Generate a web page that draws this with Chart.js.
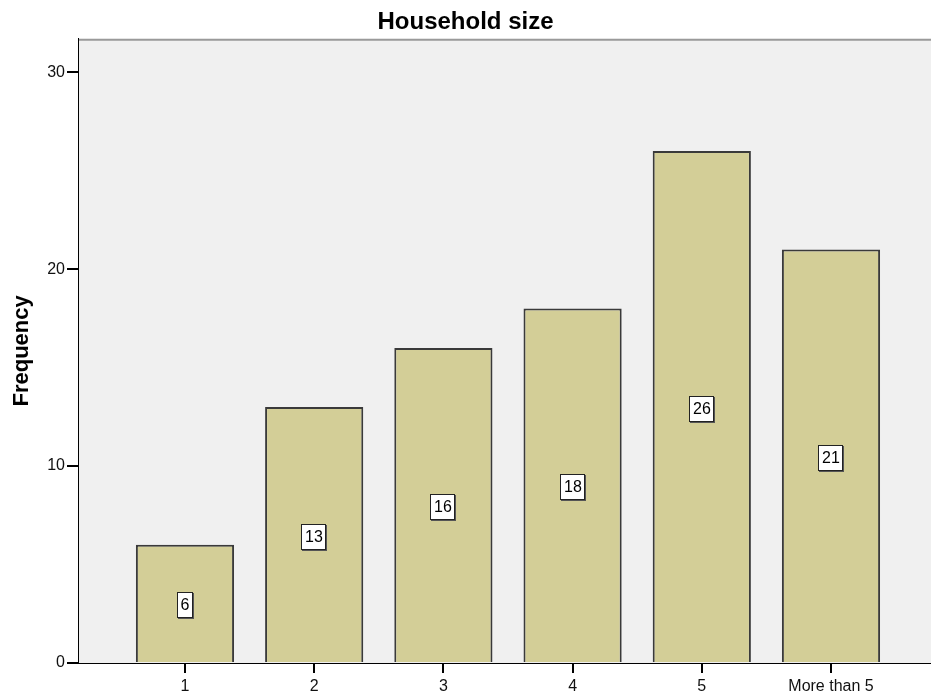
<!DOCTYPE html>
<html>
<head>
<meta charset="utf-8">
<script src="https://cdn.jsdelivr.net/npm/chart.js@4/dist/chart.umd.min.js"></script>
<style>
html,body{margin:0;padding:0;background:#fff;}
#wrap{width:931px;height:696px;position:relative;}
</style>
</head>
<body>
<div id="wrap"><canvas id="c" width="931" height="696"></canvas></div>
<script>
const categories = ["1", "2", "3", "4", "5", "More than 5"];
const frequencies = [6, 13, 16, 18, 26, 21];
const yTicks = [0, 10, 20, 30];

const positions = categories.map((c, i) => i + 1);
const points = positions.map((p, i) => ({x: p, y: frequencies[i]}));
const FONT = '"Liberation Sans", Arial, sans-serif';

const bgPlugin = {
  id: 'bgPlugin',
  beforeDraw(chart) {
    const {ctx, chartArea: a} = chart;
    ctx.save();
    ctx.fillStyle = '#F0F0F0';
    ctx.fillRect(a.left, a.top, a.right - a.left, a.bottom - a.top);
    ctx.strokeStyle = '#9a9a9a';
    ctx.lineWidth = 2;
    ctx.beginPath();
    ctx.moveTo(a.left, a.top + 1);
    ctx.lineTo(a.right, a.top + 1);
    ctx.stroke();
    ctx.restore();
  }
};

const labelPlugin = {
  id: 'labelPlugin',
  afterDatasetsDraw(chart) {
    const {ctx} = chart;
    const meta = chart.getDatasetMeta(0);
    ctx.save();
    ctx.font = '16px ' + FONT;
    ctx.textAlign = 'center';
    ctx.textBaseline = 'middle';
    meta.data.forEach((bar, i) => {
      const txt = String(frequencies[i]);
      const cx = Math.round(bar.x);
      const cy = Math.round((bar.y + bar.base) / 2) + 2;
      const w = Math.round(ctx.measureText(txt).width) + 7;
      const h = 26;
      const x0 = cx - Math.round(w / 2), y0 = cy - h / 2;
      ctx.fillStyle = '#555';
      ctx.fillRect(x0 + 1, y0 + 1, w, h);
      ctx.fillStyle = '#fff';
      ctx.fillRect(x0, y0, w, h);
      ctx.strokeStyle = '#222';
      ctx.lineWidth = 1;
      ctx.strokeRect(x0 + 0.5, y0 + 0.5, w - 1, h - 1);
      ctx.fillStyle = '#000';
      ctx.fillText(txt, cx, cy + 1);
    });
    ctx.restore();
  }
};

new Chart(document.getElementById('c'), {
  type: 'bar',
  data: {
    datasets: [{
      data: points,
      backgroundColor: '#D3CE97',
      borderColor: '#3a3a3a',
      borderWidth: 2,
      borderSkipped: 'bottom',
      categoryPercentage: 1,
      barPercentage: 0.76
    }]
  },
  options: {
    responsive: false,
    animation: false,
    layout: {padding: {left: 0, right: 0, top: 0, bottom: 0}},
    plugins: {
      legend: {display: false},
      tooltip: {enabled: false},
      title: {
        display: true,
        text: 'Household size',
        color: '#000',
        font: {family: FONT, size: 24, weight: 'bold'},
        padding: {top: 8, bottom: 2}
      }
    },
    scales: {
      x: {
        type: 'linear',
        offset: false,
        min: 0.172,
        max: 6.774,
        afterBuildTicks(scale) { scale.ticks = positions.map(v => ({value: v})); },
        afterFit(scale) { scale.height = 33; },
        ticks: {
          autoSkip: false,
          maxRotation: 0,
          color: '#111',
          padding: 4,
          font: {family: FONT, size: 16},
          callback: (v) => categories[Math.round(v) - 1] || ''
        },
        grid: {display: true, offset: false, drawOnChartArea: false, drawTicks: true, tickLength: 10, color: '#000', lineWidth: 2},
        border: {display: true, color: '#000', width: 1}
      },
      y: {
        min: 0,
        max: 31.7,
        afterBuildTicks(scale) { scale.ticks = yTicks.map(v => ({value: v})); },
        afterFit(scale) { scale.width = 78; },
        ticks: {
          color: '#111',
          padding: 2,
          font: {family: FONT, size: 16}
        },
        grid: {display: true, drawOnChartArea: false, drawTicks: true, tickLength: 11, color: '#000', lineWidth: 2},
        border: {display: true, color: '#000', width: 1},
        title: {
          display: true,
          text: 'Frequency',
          color: '#000',
          font: {family: FONT, size: 22, weight: 'bold'},
          padding: {top: 9, bottom: 0}
        }
      }
    }
  },
  plugins: [bgPlugin, labelPlugin]
});
</script>
</body>
</html>
